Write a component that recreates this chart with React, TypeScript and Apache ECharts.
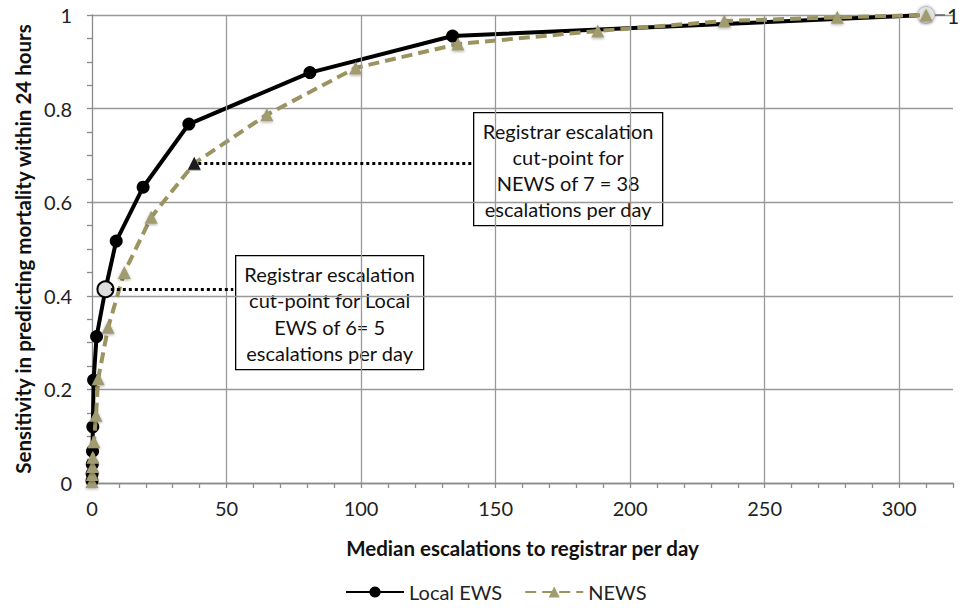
import React, { useEffect, useRef } from "react";
import * as echarts from "echarts";

// Local EWS: median escalations per day vs sensitivity
const localEscalations = [0, 0.05, 0.1, 0.2, 0.3, 0.6, 1.7, 5, 9, 19, 36, 81, 134, 310];
const localSensitivity = [0.005, 0.02, 0.04, 0.068, 0.12, 0.22, 0.313, 0.414, 0.517, 0.632, 0.767, 0.877, 0.955, 1];

// NEWS
const newsEscalations = [0, 0.1, 0.2, 0.3, 0.7, 1.5, 2.3, 6, 12, 22, 38, 65, 98, 136, 188, 235, 277, 310];
const newsSensitivity = [0.003, 0.018, 0.035, 0.055, 0.088, 0.145, 0.223, 0.333, 0.45, 0.568, 0.683, 0.787, 0.887, 0.938, 0.966, 0.987, 0.995, 1];

const xGridValues = [50, 100, 150, 200, 250, 300];
const localCutX = 5;
const newsCutX = 38;

const FONT = "Lato, 'Open Sans', sans-serif";
const OLIVE = "#9c9460";
const TRI = "#a19b70";

export default function App() {
  const ref = useRef<HTMLDivElement>(null);

  useEffect(() => {
    if (!ref.current) return;
    const chart = echarts.init(ref.current, undefined, { renderer: "svg" });

    const localData = localEscalations.map((x, i) => {
      const y = localSensitivity[i];
      const item: any = { value: [x, y] };
      if (x === localCutX) {
        item.symbolSize = 16;
        item.itemStyle = { color: "#dcdcdc", borderColor: "#000", borderWidth: 2 };
      }
      if (i === localEscalations.length - 1) {
        item.symbolSize = 17;
        item.itemStyle = {
          color: "#e4e4e4",
          borderColor: "#bdbdbd",
          borderWidth: 1,
          shadowBlur: 3,
          shadowColor: "rgba(0,0,0,0.35)",
        };
        item.label = {
          show: true,
          position: "right",
          distance: 0,
          formatter: "{l|}{v|1}",
          rich: {
            l: { width: 10, height: 1.5, backgroundColor: "#666", verticalAlign: "middle" },
            v: { fontSize: 21, color: "#222", fontFamily: FONT, padding: [0, 0, 0, 2], verticalAlign: "middle" },
          },
        };
      }
      return item;
    });

    const newsData = newsEscalations.map((x, i) => {
      const y = newsSensitivity[i];
      const item: any = { value: [x, y] };
      if (x === newsCutX) {
        item.itemStyle = { color: "#1a1a1a", shadowBlur: 0 };
      }
      return item;
    });

    const localCutY = localSensitivity[localEscalations.indexOf(localCutX)];
    const newsCutY = newsSensitivity[newsEscalations.indexOf(newsCutX)];

    chart.setOption({
      animation: false,
      backgroundColor: "#fff",
      textStyle: { fontFamily: FONT },
      grid: { left: 92, right: 11, top: 15, bottom: 131, containLabel: false },
      legend: {
        data: ["Local EWS", "NEWS"],
        left: 345,
        top: 582,
        padding: 0,
        itemWidth: 58,
        itemHeight: 14,
        itemGap: 22,
        textStyle: { fontSize: 20, color: "#222", fontFamily: FONT },
      },
      xAxis: {
        type: "value",
        min: 0,
        max: 320,
        interval: 10,
        name: "Median escalations to registrar per day",
        nameLocation: "middle",
        nameGap: 54,
        nameTextStyle: { fontSize: 20.5, fontWeight: "bold", color: "#111", fontFamily: FONT },
        axisLine: { show: true, lineStyle: { color: "#8a8a8a", width: 1.3 } },
        axisTick: { show: true, inside: false, length: 5, lineStyle: { color: "#8a8a8a", width: 1.3 } },
        axisLabel: {
          fontSize: 20,
          color: "#222",
          margin: 15,
          fontFamily: FONT,
          formatter: (v: number) => (Math.round(v) % 50 === 0 ? String(Math.round(v)) : ""),
        },
        splitLine: { show: false },
      },
      yAxis: {
        type: "value",
        min: 0,
        max: 1,
        interval: 0.2,
        name: "Sensitivity in predicting mortality within 24 hours",
        nameLocation: "middle",
        nameGap: 58,
        nameTextStyle: { fontSize: 20.5, fontWeight: "bold", color: "#111", fontFamily: FONT },
        axisLine: { show: true, lineStyle: { color: "#8a8a8a", width: 1.3 } },
        axisTick: { show: true, inside: false, length: 5, lineStyle: { color: "#8a8a8a", width: 1.3 } },
        minorTick: { show: true, splitNumber: 4, length: 5, lineStyle: { color: "#8a8a8a", width: 1.3 } },
        axisLabel: { fontSize: 20, color: "#222", margin: 20, fontFamily: FONT },
        splitLine: { show: true, lineStyle: { color: "#999", width: 1.3 } },
      },
      series: [
        {
          name: "grid",
          type: "line",
          data: [],
          z: 1,
          silent: true,
          markLine: {
            silent: true,
            symbol: ["none", "none"],
            label: { show: false },
            lineStyle: { color: "#999", width: 1.3, type: "solid" },
            data: xGridValues.map((v) => ({ xAxis: v })),
          },
        },
        {
          name: "Local EWS",
          type: "line",
          z: 3,
          data: localData,
          symbol: "circle",
          symbolSize: 13,
          itemStyle: { color: "#000" },
          lineStyle: { color: "#000", width: 4 },
          markLine: {
            silent: true,
            symbol: ["none", "none"],
            label: { show: false },
            lineStyle: { color: "#000", width: 3, type: [3, 3] },
            data: [[{ coord: [localCutX + 2, localCutY] }, { coord: [52.5, localCutY] }]],
          },
        },
        {
          name: "NEWS",
          type: "line",
          z: 4,
          data: newsData,
          symbol: "triangle",
          symbolSize: 13,
          itemStyle: { color: TRI, shadowBlur: 3, shadowColor: "rgba(0,0,0,0.35)", shadowOffsetY: 1 },
          lineStyle: { color: OLIVE, width: 4, type: [11, 6] },
          markLine: {
            silent: true,
            symbol: ["none", "none"],
            label: { show: false },
            lineStyle: { color: "#000", width: 3, type: [3, 3] },
            data: [[{ coord: [newsCutX + 1.5, newsCutY] }, { coord: [141.5, newsCutY] }]],
          },
        },
      ],
      graphic: [
        {
          type: "group",
          left: 235,
          top: 255,
          z: 10,
          children: [
            { type: "rect", shape: { x: 0, y: 0, width: 188, height: 114 }, style: { fill: "#fff", stroke: "#000", lineWidth: 1.3 } },
            {
              type: "text",
              x: 94,
              y: 5,
              style: {
                text: "Registrar escalation\ncut-point for Local\nEWS of 6= 5\nescalations per day",
                font: `20px ${FONT}`,
                fill: "#111",
                align: "center",
                verticalAlign: "top",
                lineHeight: 26.5,
              },
            },
          ],
        },
        {
          type: "group",
          left: 473,
          top: 112,
          z: 10,
          children: [
            { type: "rect", shape: { x: 0, y: 0, width: 189, height: 113 }, style: { fill: "#fff", stroke: "#000", lineWidth: 1.3 } },
            {
              type: "text",
              x: 94.5,
              y: 5,
              style: {
                text: "Registrar escalation\ncut-point for\nNEWS of 7 = 38\nescalations per day",
                font: `20px ${FONT}`,
                fill: "#111",
                align: "center",
                verticalAlign: "top",
                lineHeight: 26,
              },
            },
          ],
        },
      ],
    });

    return () => chart.dispose();
  }, []);

  return <div ref={ref} style={{ width: 964, height: 614, position: "absolute", left: 0, top: 0 }} />;
}
